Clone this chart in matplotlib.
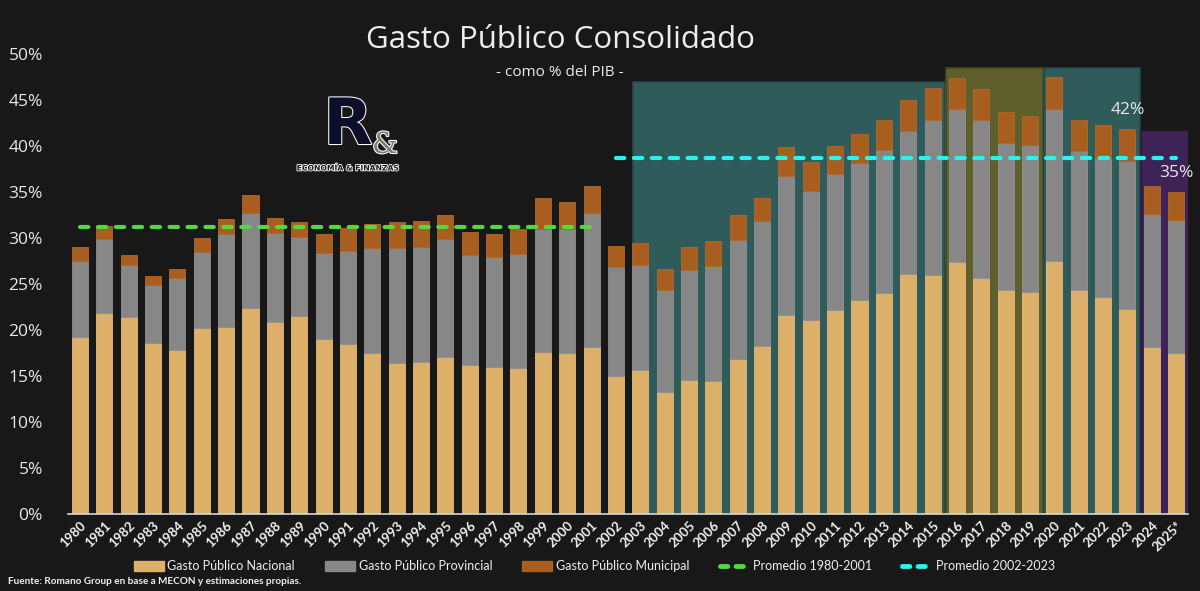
import matplotlib.pyplot as plt
import matplotlib.patheffects as pe
from matplotlib.patches import Rectangle, Patch
from matplotlib.lines import Line2D

years = [str(y) for y in range(1980, 2025)] + ['2025*']

# valores como % del PIB
nacional = [19.2, 21.9, 21.4, 18.55, 17.8, 20.2, 20.35, 22.4, 20.9, 21.55,
            19.0, 18.45, 17.55, 16.45, 16.55, 17.1, 16.2, 16.0, 15.9, 17.65,
            17.55, 18.2, 15.05, 15.6, 13.25, 14.55, 14.5, 16.9, 18.25, 21.6,
            21.1, 22.2, 23.25, 24.05, 26.1, 25.95, 27.4, 25.7, 24.35, 24.15,
            27.55, 24.3, 23.6, 22.3, 18.1, 17.5]
prov_top = [27.5, 29.85, 27.1, 24.85, 25.6, 28.5, 30.4, 32.75, 30.5, 30.15,
            28.4, 28.6, 28.9, 28.9, 29.05, 29.85, 28.1, 27.9, 28.3, 31.0,
            31.0, 32.7, 26.8, 27.05, 24.3, 26.5, 27.0, 29.8, 31.8, 36.75,
            35.1, 36.95, 38.2, 39.55, 41.65, 42.8, 44.05, 42.8, 40.3, 40.1,
            44.05, 39.45, 38.65, 38.4, 32.65, 32.0]
total = [29.05, 31.3, 28.1, 25.9, 26.6, 29.95, 32.1, 34.7, 32.2, 31.7,
         30.4, 31.1, 31.55, 31.7, 31.85, 32.5, 30.6, 30.4, 31.0, 34.3,
         33.9, 35.65, 29.1, 29.5, 26.6, 29.05, 29.7, 32.5, 34.35, 39.9,
         38.3, 40.05, 41.3, 42.8, 45.05, 46.3, 47.35, 46.25, 43.7, 43.25,
         47.55, 42.8, 42.3, 41.8, 35.65, 35.0]
provincial = [p - n for p, n in zip(prov_top, nacional)]
municipal = [t - p for t, p in zip(total, prov_top)]

prom_1980_2001 = 31.15
prom_2002_2023 = 38.75

bg = '#181818'
c_nac = '#dcb068'
c_prov = '#878787'
c_mun = '#a85e1e'
c_green = '#4ddc3a'
c_cyan = '#2ef0f0'

fig = plt.figure(figsize=(12, 5.91), dpi=100, facecolor=bg)
ax = fig.add_axes([0.0565, 0.1303, 0.9338, 0.7783])
ax.set_facecolor(bg)

x = list(range(len(years)))

# zonas sombreadas
zonas = [(22.69, 35.51, 47.0, '#2f5b5b', '#264a4a'),
         (35.55, 39.52, 48.5, '#5f5f2e', '#4a4a22'),
         (39.57, 43.5, 48.5, '#2f5b5b', '#264a4a'),
         (43.54, 45.63, 41.65, '#3f2356', '#2d1840')]
for x0, x1, top, fc, ec in zonas:
    ax.add_patch(Rectangle((x0, 0), x1 - x0, top, facecolor=fc,
                           edgecolor=ec, linewidth=1.2, zorder=1))

w = 0.66
ax.bar(x, nacional, w, color=c_nac, edgecolor='#e6bd78', linewidth=0.6, zorder=2)
ax.bar(x, provincial, w, bottom=nacional, color=c_prov, edgecolor='#909090',
       linewidth=0.6, zorder=2)
ax.bar(x, municipal, w, bottom=prov_top, color=c_mun, edgecolor='#b06828',
       linewidth=0.6, zorder=2)

ax.plot([0, 21], [prom_1980_2001] * 2, color=c_green, lw=3,
        dashes=(2.0, 2.3), dash_capstyle='round', zorder=3)
ax.plot([22, 45], [prom_2002_2023] * 2, color=c_cyan, lw=3,
        dashes=(2.0, 2.3), dash_capstyle='round', zorder=3)

ax.text(43.0, 43.9, '42%', color='#e8e8e8', fontsize=12.5, ha='center',
        va='center', family='Open Sans', zorder=4)
ax.text(45.0, 37.1, '35%', color='#e8e8e8', fontsize=12.5, ha='center',
        va='center', family='Open Sans', zorder=4)

ax.set_xlim(-0.5, 45.5)
ax.set_ylim(0, 50)
ax.set_yticks(range(0, 51, 5))
ax.set_yticklabels([f'{v}%' for v in range(0, 51, 5)], family='Open Sans',
                   fontsize=12.5, color='#e8e8e8')
ax.set_xticks(x)
ax.set_xticklabels(years, rotation=45, ha='right', va='top',
                   rotation_mode='anchor', fontsize=9.5, fontweight='bold',
                   color='#f0f0f0', family='Lato')
ax.tick_params(axis='y', length=0, pad=18)
ax.tick_params(axis='x', length=0, pad=4)
for s in ['top', 'right', 'left']:
    ax.spines[s].set_visible(False)
ax.spines['bottom'].set_color('#d8d8d8')
ax.spines['bottom'].set_linewidth(1.2)

fig.text(560 / 1200, 1 - 40 / 591, 'Gasto Público Consolidado', ha='center',
         va='center', fontsize=22.5, color='#ececec', family='Open Sans')
fig.text(560 / 1200, 1 - 73 / 591, '- como % del PIB -', ha='center',
         va='center', fontsize=11, color='#ececec', family='Open Sans')

# logo
outline = [pe.withStroke(linewidth=1.5, foreground='white')]
fig.text(348 / 1200, 1 - 126 / 591, 'R', ha='center', va='center',
         fontsize=46, color='#0b0f2a', family='DejaVu Sans',
         fontweight='bold', path_effects=outline)
fig.text(385 / 1200, 1 - 145 / 591, '&', ha='center', va='center',
         fontsize=21, color='#7a7a7a', family='DejaVu Serif',
         path_effects=outline)
fig.text(348 / 1200, 1 - 168 / 591, 'ECONOMÍA & FINANZAS', ha='center',
         va='center', fontsize=5.5, color='#181818', fontweight='bold',
         family='DejaVu Sans',
         path_effects=[pe.withStroke(linewidth=1.2, foreground='white')])

handles = [Patch(color=c_nac), Patch(color=c_prov), Patch(color=c_mun),
           Line2D([0], [0], color=c_green, lw=3.5, dashes=(1.5, 1.7),
                  dash_capstyle='round'),
           Line2D([0], [0], color=c_cyan, lw=3.5, dashes=(1.5, 1.7),
                  dash_capstyle='round')]
labels = ['Gasto Público Nacional', 'Gasto Público Provincial',
          'Gasto Público Municipal', 'Promedio 1980-2001', 'Promedio 2002-2023']
fig.legend(handles, labels, loc='center', bbox_to_anchor=(0.4954, 0.042),
           ncol=5, frameon=False, handlelength=2.4, handleheight=0.8,
           handletextpad=0.3, columnspacing=2.4,
           prop={'family': 'Lato', 'size': 9}, labelcolor='#f0f0f0')

fig.text(8 / 1200, 1 - 581 / 591, 'Fuente: Romano Group en base a MECON y estimaciones propias.',
         ha='left', va='center', fontsize=7.2, fontweight='bold',
         color='#f0f0f0', family='Lato')

fig.savefig('out.png', dpi=100, facecolor=bg)
